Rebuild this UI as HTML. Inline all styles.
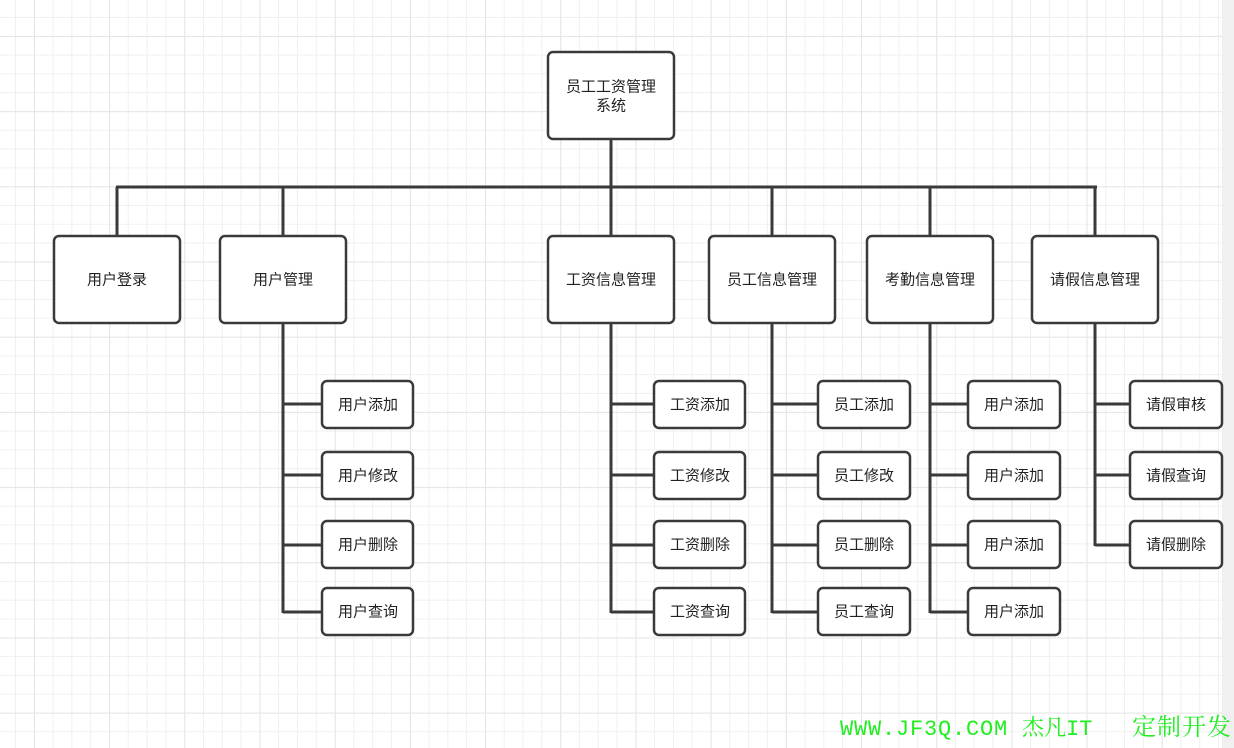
<!DOCTYPE html>
<html><head><meta charset="utf-8"><style>
html,body{margin:0;padding:0;}
body{width:1234px;height:748px;overflow:hidden;position:relative;background:#fff;
background-image:
linear-gradient(to right,#e6e6e6 1px,transparent 1px),
linear-gradient(to bottom,#e6e6e6 1px,transparent 1px),
linear-gradient(to right,#f0f0f0 1px,transparent 1px),
linear-gradient(to bottom,#f0f0f0 1px,transparent 1px);
background-size:75.2px 75.2px,75.2px 75.2px,18.8px 18.8px,18.8px 18.8px;
background-position:34px 36px,34px 36px,15px 17px,15px 17px;}
.strip{position:absolute;left:1222px;top:0;width:12px;height:748px;background:#f0f0f0;}
svg{position:absolute;left:0;top:0;}
text{font-family:"Liberation Sans","Noto Sans CJK SC",sans-serif;font-size:15px;fill:#222;text-anchor:middle;dominant-baseline:central;}
.wm{position:absolute;top:716px;font-family:"Liberation Mono","Noto Serif CJK SC",monospace;font-size:22px;color:#22ee22;white-space:pre;line-height:28px;}
</style></head><body>
<div class="strip"></div>
<svg width="1234" height="748" viewBox="0 0 1234 748">
<g stroke="#3a3a3a" stroke-width="3" fill="none">
<line x1="116" y1="187" x2="1097" y2="187"/>
<line x1="611" y1="139" x2="611" y2="187"/>
<line x1="117" y1="187" x2="117" y2="236"/>
<line x1="283" y1="187" x2="283" y2="236"/>
<line x1="611" y1="187" x2="611" y2="236"/>
<line x1="772" y1="187" x2="772" y2="236"/>
<line x1="930" y1="187" x2="930" y2="236"/>
<line x1="1095" y1="187" x2="1095" y2="236"/>
<line x1="283" y1="323" x2="283" y2="613"/>
<line x1="611" y1="323" x2="611" y2="613"/>
<line x1="772" y1="323" x2="772" y2="613"/>
<line x1="930" y1="323" x2="930" y2="613"/>
<line x1="1095" y1="323" x2="1095" y2="546"/>
<path d="M283 404H322M283 475H322M283 545H322M283 612H322"/>
<path d="M611 404H654M611 475H654M611 545H654M611 612H654"/>
<path d="M772 404H818M772 475H818M772 545H818M772 612H818"/>
<path d="M930 404H968M930 475H968M930 545H968M930 612H968"/>
<path d="M1095 404H1130M1095 475H1130M1095 545H1130"/>
</g>
<g stroke="#3a3a3a" stroke-width="2.5" fill="#fff">
<rect x="548" y="52" width="126" height="87" rx="5"/>
<rect x="54" y="236" width="126" height="87" rx="5"/>
<rect x="220" y="236" width="126" height="87" rx="5"/>
<rect x="548" y="236" width="126" height="87" rx="5"/>
<rect x="709" y="236" width="126" height="87" rx="5"/>
<rect x="867" y="236" width="126" height="87" rx="5"/>
<rect x="1032" y="236" width="126" height="87" rx="5"/>
<rect x="322" y="381" width="91" height="47" rx="5"/>
<rect x="322" y="452" width="91" height="47" rx="5"/>
<rect x="322" y="521" width="91" height="47" rx="5"/>
<rect x="322" y="588" width="91" height="47" rx="5"/>
<rect x="654" y="381" width="91" height="47" rx="5"/>
<rect x="654" y="452" width="91" height="47" rx="5"/>
<rect x="654" y="521" width="91" height="47" rx="5"/>
<rect x="654" y="588" width="91" height="47" rx="5"/>
<rect x="818" y="381" width="92" height="47" rx="5"/>
<rect x="818" y="452" width="92" height="47" rx="5"/>
<rect x="818" y="521" width="92" height="47" rx="5"/>
<rect x="818" y="588" width="92" height="47" rx="5"/>
<rect x="968" y="381" width="92" height="47" rx="5"/>
<rect x="968" y="452" width="92" height="47" rx="5"/>
<rect x="968" y="521" width="92" height="47" rx="5"/>
<rect x="968" y="588" width="92" height="47" rx="5"/>
<rect x="1130" y="381" width="92" height="47" rx="5"/>
<rect x="1130" y="452" width="92" height="47" rx="5"/>
<rect x="1130" y="521" width="92" height="47" rx="5"/>
</g>
<text x="611" y="87">员工工资管理</text>
<text x="611" y="106">系统</text>
<text x="117" y="280">用户登录</text>
<text x="283" y="280">用户管理</text>
<text x="611" y="280">工资信息管理</text>
<text x="772" y="280">员工信息管理</text>
<text x="930" y="280">考勤信息管理</text>
<text x="1095" y="280">请假信息管理</text>
<text x="368" y="405">用户添加</text>
<text x="368" y="476">用户修改</text>
<text x="368" y="545">用户删除</text>
<text x="368" y="612">用户查询</text>
<text x="700" y="405">工资添加</text>
<text x="700" y="476">工资修改</text>
<text x="700" y="545">工资删除</text>
<text x="700" y="612">工资查询</text>
<text x="864" y="405">员工添加</text>
<text x="864" y="476">员工修改</text>
<text x="864" y="545">员工删除</text>
<text x="864" y="612">员工查询</text>
<text x="1014" y="405">用户添加</text>
<text x="1014" y="476">用户添加</text>
<text x="1014" y="545">用户添加</text>
<text x="1014" y="612">用户添加</text>
<text x="1176" y="405">请假审核</text>
<text x="1176" y="476">请假查询</text>
<text x="1176" y="545">请假删除</text>
</svg>
<div class="wm" style="left:840px;letter-spacing:0.8px;">WWW.JF3Q.COM</div>
<div class="wm" style="left:1022px;">杰凡IT</div>
<div class="wm" style="left:1132px;font-size:24px;letter-spacing:1px;">定制开发</div>
</body></html>
